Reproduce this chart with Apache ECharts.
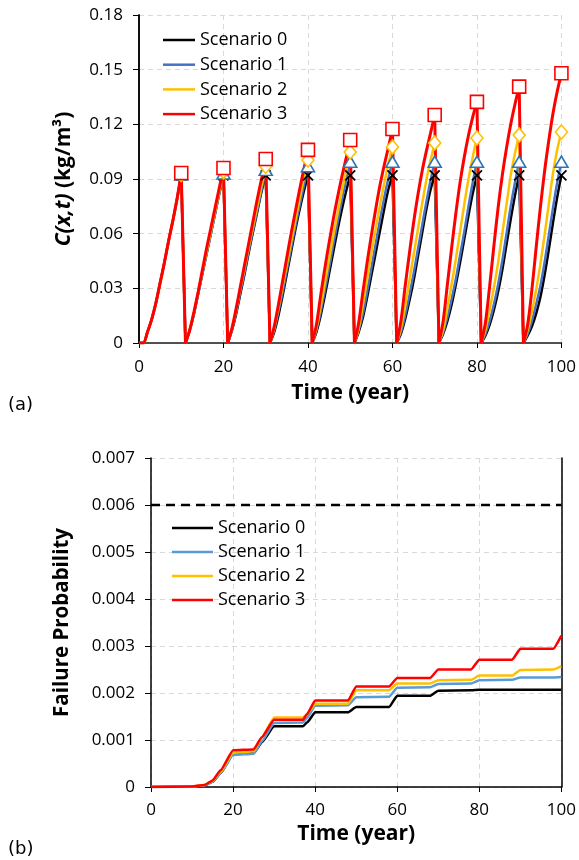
<!DOCTYPE html>
<html><head><meta charset="utf-8">
<script src="https://cdn.jsdelivr.net/npm/echarts@6/dist/echarts.min.js"></script>
<style>
html,body{margin:0;padding:0;background:#fff}
#a{position:absolute;left:0;top:0;width:579px;height:420px}
#b{position:absolute;left:0;top:420px;width:579px;height:440px}
</style>
</head><body><div id="a"></div><div id="b"></div>
<script>
// ---------- Panel (a): concentration C(x,t) ----------
// Each cycle: values at t = 10k+1 ... 10k+10 (year), peak at t = 10(k+1)
const scenarioNames = ['Scenario 0', 'Scenario 1', 'Scenario 2', 'Scenario 3'];

const conc0 = [
 [0,0.006,0.013,0.022,0.033,0.044,0.056,0.067,0.079,0.092],
 [0,0.007,0.016,0.027,0.038,0.049,0.060,0.071,0.082,0.092],
 [0,0.007,0.016,0.027,0.038,0.050,0.061,0.072,0.083,0.092],
 [0,0.006,0.015,0.026,0.038,0.050,0.062,0.073,0.083,0.092],
 [0,0.006,0.015,0.026,0.038,0.050,0.062,0.073,0.083,0.092],
 [0,0.006,0.014,0.025,0.037,0.049,0.061,0.073,0.084,0.092],
 [0,0.005,0.013,0.023,0.034,0.047,0.060,0.073,0.084,0.092],
 [0,0.005,0.012,0.021,0.032,0.044,0.057,0.070,0.082,0.092],
 [0,0.004,0.010,0.018,0.028,0.040,0.054,0.068,0.081,0.092],
 [0,0.004,0.009,0.016,0.025,0.037,0.051,0.066,0.080,0.092]
];
const conc1 = [
 [0,0.006,0.013,0.022,0.033,0.044,0.056,0.067,0.079,0.0925],
 [0,0.007,0.016,0.027,0.038,0.049,0.060,0.071,0.082,0.093],
 [0,0.007,0.017,0.028,0.039,0.051,0.062,0.073,0.084,0.095],
 [0,0.007,0.017,0.028,0.040,0.052,0.064,0.075,0.086,0.097],
 [0,0.007,0.017,0.029,0.041,0.054,0.066,0.078,0.089,0.0995],
 [0,0.007,0.016,0.028,0.041,0.054,0.067,0.079,0.090,0.0995],
 [0,0.006,0.015,0.026,0.038,0.051,0.064,0.077,0.089,0.0995],
 [0,0.006,0.014,0.024,0.035,0.048,0.061,0.075,0.088,0.0995],
 [0,0.005,0.012,0.021,0.032,0.045,0.060,0.075,0.088,0.0995],
 [0,0.005,0.012,0.021,0.031,0.044,0.059,0.074,0.088,0.0995]
];
const conc2 = [
 [0,0.006,0.013,0.022,0.033,0.044,0.056,0.067,0.079,0.0925],
 [0,0.007,0.017,0.028,0.039,0.050,0.061,0.072,0.083,0.094],
 [0,0.008,0.018,0.030,0.041,0.053,0.064,0.075,0.086,0.097],
 [0,0.008,0.019,0.031,0.043,0.055,0.067,0.079,0.090,0.1004],
 [0,0.008,0.020,0.033,0.046,0.059,0.071,0.083,0.094,0.1048],
 [0,0.008,0.021,0.035,0.049,0.062,0.075,0.087,0.098,0.1076],
 [0,0.008,0.020,0.034,0.048,0.062,0.076,0.089,0.100,0.1098],
 [0,0.007,0.019,0.032,0.046,0.061,0.076,0.090,0.102,0.1125],
 [0,0.007,0.018,0.030,0.044,0.060,0.076,0.092,0.104,0.1141],
 [0,0.007,0.017,0.029,0.043,0.059,0.076,0.093,0.106,0.1158]
];
const conc3 = [
 [0,0.006,0.013,0.022,0.033,0.044,0.056,0.067,0.079,0.0933],
 [0,0.007,0.017,0.028,0.040,0.052,0.063,0.074,0.085,0.096],
 [0,0.008,0.019,0.031,0.043,0.055,0.067,0.079,0.090,0.101],
 [0,0.009,0.021,0.034,0.047,0.060,0.072,0.084,0.095,0.106],
 [0,0.010,0.026,0.041,0.055,0.068,0.080,0.091,0.101,0.1114],
 [0,0.011,0.028,0.044,0.059,0.073,0.086,0.097,0.107,0.1174],
 [0,0.012,0.031,0.049,0.066,0.081,0.094,0.105,0.115,0.1251],
 [0,0.012,0.032,0.052,0.071,0.088,0.102,0.114,0.124,0.1323],
 [0,0.011,0.031,0.053,0.074,0.092,0.107,0.120,0.131,0.1407],
 [0,0.010,0.029,0.052,0.074,0.094,0.111,0.126,0.138,0.148]
];
const yTicksA = ['0','0.03','0.06','0.09','0.12','0.15','0.18'];
const xTicks = ['0','20','40','60','80','100'];

// ---------- Panel (b): failure probability ----------
const failTime = [0,10,13,15,17,20,25,27,30,37,38,40,48,50,58,60,68,70,78,80,88,90,98,100];
const fail0 = [0,0.00001,0.00003,0.00011,0.00030,0.00070,0.00072,0.00095,0.00129,0.00129,0.00137,0.00159,0.00159,0.00170,0.00170,0.00194,0.00194,0.00205,0.00206,0.00207,0.00207,0.00207,0.00207,0.00207];
const fail1 = [0,0.00001,0.00003,0.00011,0.00030,0.00068,0.00071,0.00097,0.00136,0.00137,0.00147,0.00173,0.00174,0.00191,0.00192,0.00211,0.00212,0.00219,0.00220,0.00227,0.00228,0.00233,0.00233,0.00234];
const fail2 = [0,0.00001,0.00004,0.00013,0.00033,0.00073,0.00076,0.00106,0.00148,0.00148,0.00155,0.00177,0.00177,0.00206,0.00206,0.00220,0.00220,0.00227,0.00228,0.00237,0.00237,0.00249,0.00250,0.00257];
const fail3 = [0,0.00001,0.00004,0.00014,0.00036,0.00078,0.00080,0.00106,0.00143,0.00143,0.00155,0.00184,0.00184,0.00214,0.00214,0.00232,0.00232,0.00250,0.00250,0.00271,0.00271,0.00294,0.00294,0.00322];
const failLimit = 0.006;
const yTicksB = ['0','0.001','0.002','0.003','0.004','0.005','0.006','0.007'];

const FONT = 'Open Sans';
const colorsA = ['#000000', '#4472c4', '#ffc000', '#ff0000'];
const colorsB = ['#000000', '#5b9bd5', '#ffc000', '#ff0000'];

// rising parts of each cycle (smoothed), separated by gaps
function buildRise(cycles) {
  const d = [[0, 0], [1, cycles[0][0]]];
  cycles.forEach((c, k) => {
    c.forEach((v, j) => { if (k > 0 || j > 0) d.push([10 * k + 1 + j, v]); });
    d.push([10 * k + 10.5, '-']);
  });
  return d;
}
// sudden drops after each peak (straight)
function buildDrop(cycles) {
  const d = [];
  cycles.forEach((c, k) => {
    if (k < cycles.length - 1) {
      d.push([10 * (k + 1), c[9]], [10 * (k + 1) + 1, cycles[k + 1][0]], [10 * (k + 1) + 1.5, '-']);
    }
  });
  return d;
}
function peaks(cycles) { return cycles.map((c, k) => [10 * (k + 1), c[9]]); }
function pairs(xs, ys) { return xs.map((x, i) => [x, ys[i]]); }

const concAll = [conc0, conc1, conc2, conc3];
const markerDefs = [
  { symbol: 'path://M0,0L10,10M10,0L0,10', size: 10, color: 'rgba(0,0,0,0)', border: '#000000', bw: 1.8 },
  { symbol: 'triangle', size: [13, 11], color: '#ffffff', border: '#2e75b6', bw: 1.6 },
  { symbol: 'diamond', size: [12, 14], color: '#ffffff', border: '#ffc000', bw: 1.6 },
  { symbol: 'rect', size: 13, color: '#ffffff', border: '#ff0000', bw: 1.6 }
];

const axisLabelStyle = { fontSize: 17, color: '#000', fontFamily: FONT };
const gridLine = { show: true, lineStyle: { color: '#d9d9d9', type: [5, 4], width: 1 } };
const legendText = { fontSize: 18, color: '#000', fontFamily: FONT, lineHeight: 18 };
function legendData(colors) {
  return scenarioNames.map((n, i) => ({ name: n, icon: 'rect', itemStyle: { color: colors[i] } }));
}

const lineSeriesA = [];
concAll.forEach((c, i) => {
  const ls = { color: colorsA[i], width: i === 3 ? 3 : 2.5 };
  lineSeriesA.push({
    name: scenarioNames[i], type: 'line', data: buildRise(c), showSymbol: false, symbol: 'none',
    smooth: 0.3, connectNulls: false,
    lineStyle: ls, itemStyle: { color: colorsA[i] }, z: 2 + i
  });
  lineSeriesA.push({
    name: scenarioNames[i], type: 'line', data: buildDrop(c), showSymbol: false, symbol: 'none',
    smooth: false, connectNulls: false,
    lineStyle: ls, itemStyle: { color: colorsA[i] }, z: 2 + i
  });
});

const optA = {
  animation: false,
  textStyle: { fontFamily: FONT },
  grid: { left: 139, top: 15, width: 425, height: 328 },
  legend: {
    orient: 'vertical', left: 163, top: 31, padding: 0, itemWidth: 32, itemHeight: 2.5, itemGap: 6.7,
    data: legendData(colorsA), textStyle: legendText
  },
  xAxis: [{
    type: 'value', min: 0, max: 100, interval: 20,
    axisLine: { lineStyle: { color: '#000', width: 1.5 } },
    axisTick: { show: true, length: 5, lineStyle: { color: '#000' } },
    axisLabel: Object.assign({ margin: 16, formatter: v => xTicks[Math.round(v / 20)] }, axisLabelStyle),
    splitLine: gridLine,
    name: 'Time (year)', nameLocation: 'middle', nameGap: 40,
    nameTextStyle: { fontSize: 21, fontWeight: 'bold', color: '#000', fontFamily: FONT }
  }, {
    type: 'value', min: 0, max: 100, position: 'top',
    axisLine: { show: true, lineStyle: { color: '#595959', width: 1.5 } },
    axisTick: { show: false }, axisLabel: { show: false }, splitLine: { show: false }
  }],
  yAxis: [{
    type: 'value', min: 0, max: 0.18, interval: 0.03,
    axisLine: { show: true, lineStyle: { color: '#000', width: 1.5 } },
    axisTick: { show: true, length: 6, lineStyle: { color: '#000' } },
    axisLabel: Object.assign({ margin: 16, formatter: v => yTicksA[Math.round(v / 0.03)] }, axisLabelStyle),
    splitLine: gridLine,
    name: '{i|C(x,t)} (kg/m³)', nameLocation: 'middle', nameGap: 64,
    nameTextStyle: { fontSize: 21, fontWeight: 'bold', color: '#000', fontFamily: FONT,
      rich: { i: { fontSize: 21, fontWeight: 'bold', fontStyle: 'italic', color: '#000', fontFamily: FONT } } }
  }, {
    type: 'value', min: 0, max: 0.18, position: 'right',
    axisLine: { show: true, lineStyle: { color: '#000', width: 1.5 } },
    axisTick: { show: false }, axisLabel: { show: false }, splitLine: { show: false }
  }],
  graphic: [{ type: 'text', left: 8, top: 396, style: { text: '(a)', fontSize: 18, fontFamily: 'DejaVu Sans', fill: '#000' } }],
  series: [
    ...lineSeriesA,
    ...concAll.map((c, i) => ({
      name: scenarioNames[i] + ' marker', type: 'scatter', data: peaks(c),
      symbol: markerDefs[i].symbol, symbolSize: markerDefs[i].size,
      itemStyle: { color: markerDefs[i].color, borderColor: markerDefs[i].border, borderWidth: markerDefs[i].bw, opacity: 1 },
      z: 10 + i
    }))
  ]
};

const failAll = [fail0, fail1, fail2, fail3];
const optB = {
  animation: false,
  textStyle: { fontFamily: FONT },
  grid: { left: 151, top: 38, width: 415, height: 329 },
  legend: {
    orient: 'vertical', left: 172, top: 99, padding: 0, itemWidth: 41, itemHeight: 2.5, itemGap: 6,
    data: legendData(colorsB), textStyle: legendText
  },
  xAxis: {
    type: 'value', min: 0, max: 100, interval: 20,
    axisLine: { lineStyle: { color: '#000', width: 1.5 } },
    axisTick: { show: true, length: 5, lineStyle: { color: '#000' } },
    axisLabel: Object.assign({ margin: 15, formatter: v => xTicks[Math.round(v / 20)] }, axisLabelStyle),
    splitLine: gridLine,
    name: 'Time (year)', nameLocation: 'middle', nameGap: 37,
    nameTextStyle: { fontSize: 21, fontWeight: 'bold', color: '#000', fontFamily: FONT }
  },
  yAxis: [{
    type: 'value', min: 0, max: 0.007, interval: 0.001,
    axisLine: { show: true, lineStyle: { color: '#000', width: 1.5 } },
    axisTick: { show: true, length: 6, lineStyle: { color: '#000' } },
    axisLabel: Object.assign({ margin: 16, formatter: v => yTicksB[Math.round(v / 0.001)] }, axisLabelStyle),
    splitLine: gridLine,
    name: 'Failure Probability', nameLocation: 'middle', nameGap: 78,
    nameTextStyle: { fontSize: 20.5, fontWeight: 'bold', color: '#000', fontFamily: FONT }
  }, {
    type: 'value', min: 0, max: 0.007, position: 'right',
    axisLine: { show: true, lineStyle: { color: '#000', width: 1.5 } },
    axisTick: { show: false }, axisLabel: { show: false }, splitLine: { show: false }
  }],
  graphic: [{ type: 'text', left: 8, top: 420, style: { text: '(b)', fontSize: 18, fontFamily: 'DejaVu Sans', fill: '#000' } }],
  series: [
    ...failAll.map((f, i) => ({
      name: scenarioNames[i], type: 'line', data: pairs(failTime, f), showSymbol: false, symbol: 'none',
      smooth: 0.15, smoothMonotone: 'x',
      lineStyle: { color: colorsB[i], width: 2.5 }, itemStyle: { color: colorsB[i] }, z: 2 + i
    })),
    {
      name: 'limit', type: 'line', data: [[0, failLimit], [100, failLimit]], showSymbol: false, symbol: 'none',
      lineStyle: { color: '#000', width: 2.5, type: [9, 6] }, z: 1, silent: true
    }
  ]
};

echarts.init(document.getElementById('a')).setOption(optA);
echarts.init(document.getElementById('b')).setOption(optB);
</script></body></html>
